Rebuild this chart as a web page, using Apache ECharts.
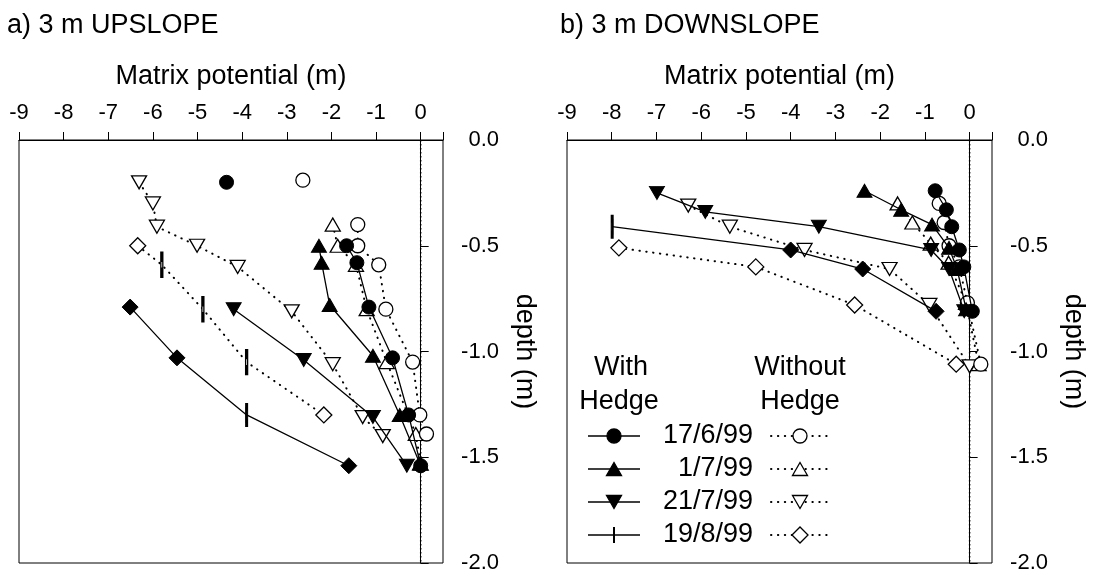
<!DOCTYPE html>
<html><head><meta charset="utf-8">
<script src="https://cdn.jsdelivr.net/npm/echarts/dist/echarts.min.js"></script>
<style>html,body{margin:0;padding:0;background:#fff}#c{width:1098px;height:575px}</style>
</head><body><div id="c"></div>
<script>
// ---- data: [matrix potential (m), depth (m)] ; ['-','-'] = break in line ----
const xTickValues = [-9,-8,-7,-6,-5,-4,-3,-2,-1,0];
const depthTicks = [0.0,-0.5,-1.0,-1.5,-2.0];
const dates = ['17/6/99','1/7/99','21/7/99','19/8/99'];

// a) 3 m UPSLOPE
const up_with_17    = [[-4.35,-0.20],['-','-'],[-1.66,-0.50],[-1.43,-0.58],[-1.16,-0.79],[-0.63,-1.03],[-0.27,-1.30],[0.00,-1.54]];
const up_without_17 = [[-2.64,-0.19],['-','-'],[-1.41,-0.40],[-1.41,-0.50],[-0.94,-0.59],[-0.78,-0.80],[-0.18,-1.05],[-0.02,-1.30],[0.13,-1.39]];
const up_with_1     = [[-2.28,-0.50],[-2.22,-0.58],[-2.04,-0.78],[-1.07,-1.02],[-0.47,-1.30],[-0.02,-1.53]];
const up_without_1  = [[-1.97,-0.40],[-1.86,-0.50],[-1.45,-0.59],[-1.21,-0.80],[-0.76,-1.05],[-0.11,-1.39],[0.00,-1.53]];
const up_with_21    = [[-4.19,-0.80],[-2.62,-1.04],[-1.07,-1.31],[-0.31,-1.54]];
const up_without_21 = [[-6.31,-0.20],[-6.00,-0.30],[-5.91,-0.41],[-5.01,-0.50],[-4.10,-0.60],[-2.89,-0.81],[-1.97,-1.06],[-1.30,-1.31],[-0.85,-1.40]];
const up_with_19    = [[-6.51,-0.79],[-5.46,-1.03],[-3.90,-1.30],[-1.61,-1.54]];
const up_without_19 = [[-6.34,-0.50],[-5.80,-0.59],[-4.88,-0.80],[-3.90,-1.05],[-2.17,-1.30]];
const up_with_19_diamondIdx    = [0,1,3];
const up_without_19_diamondIdx = [0,4];

// b) 3 m DOWNSLOPE
const dn_with_17    = [[-0.77,-0.24],[-0.52,-0.33],[-0.40,-0.41],[-0.23,-0.52],[-0.13,-0.60],[0.06,-0.81]];
const dn_without_17 = [[-0.68,-0.30],[-0.57,-0.39],[-0.46,-0.50],[-0.23,-0.60],[-0.05,-0.77],[0.25,-1.06]];
const dn_with_1     = [[-2.35,-0.24],[-1.53,-0.33],[-0.84,-0.40],[-0.46,-0.51],[-0.28,-0.61],[-0.08,-0.80]];
const dn_without_1  = [[-1.61,-0.30],[-1.28,-0.39],[-0.87,-0.49],[-0.47,-0.58],[-0.08,-0.77],[0.20,-1.06]];
const dn_with_21    = [[-6.99,-0.25],[-5.91,-0.34],[-3.37,-0.41],[-0.86,-0.52],[-0.46,-0.61],[-0.12,-0.81]];
const dn_without_21 = [[-6.29,-0.31],[-5.36,-0.41],[-3.69,-0.52],[-1.79,-0.61],[-0.90,-0.78],[0.00,-1.07]];
const dn_with_19    = [[-7.99,-0.41],[-4.00,-0.52],[-2.39,-0.61],[-0.75,-0.81]];
const dn_without_19 = [[-7.84,-0.51],[-4.78,-0.60],[-2.57,-0.78],[-0.30,-1.06]];
const dn_with_19_diamondIdx    = [1,2,3];
const dn_without_19_diamondIdx = [0,1,2,3];

// ---- styles ----
const FONT = 'Liberation Sans';
const BLACK = '#000';
const solid = {color: BLACK, width: 1.3, type: 'solid'};
const dotted = {color: BLACK, width: 2, type: [0.4, 6.5], cap: 'round'};
const filled = {color: BLACK, borderColor: BLACK, borderWidth: 1};
const open = {color: '#fff', borderColor: BLACK, borderWidth: 1.3};

const MK = {
  circle: {symbol: 'circle', symbolSize: 14, symbolRotate: 0},
  up: {symbol: 'triangle', symbolSize: [15, 13], symbolRotate: 0},
  down: {symbol: 'triangle', symbolSize: [15, 13], symbolRotate: 180},
  bar: {symbol: 'rect', symbolSize: [2, 16], symbolRotate: 0},
  diamond: {symbol: 'diamond', symbolSize: [16, 16], symbolRotate: 0}
};

function ser(gi, data, mk, isFilled, z, diamondIdx) {
  const item = isFilled ? filled : open;
  const d = data.map((p, i) => (diamondIdx && diamondIdx.includes(i))
    ? {value: p, symbol: 'diamond', symbolSize: [16, 16], itemStyle: item}
    : p);
  return Object.assign({
    type: 'line', xAxisIndex: gi, yAxisIndex: gi, data: d,
    showAllSymbol: true, connectNulls: false, animation: false, silent: true,
    lineStyle: isFilled ? solid : dotted,
    itemStyle: isFilled ? filled : open, z: z
  }, mk);
}

function zeroLine(gi) {
  return {type: 'line', xAxisIndex: gi, yAxisIndex: gi, data: [[0, 0], [0, -2]],
    symbol: 'none', silent: true, animation: false, z: 1,
    lineStyle: {color: BLACK, width: 1.5, type: [1.5, 2.5]}};
}

function xAx(gi) {
  return {type: 'value', gridIndex: gi, position: 'top', min: -9, max: 0.5, interval: 1,
    name: 'Matrix potential (m)', nameLocation: 'middle', nameGap: 50,
    nameTextStyle: {fontSize: 27, color: BLACK, fontFamily: FONT},
    axisLine: {show: true, lineStyle: {color: BLACK, width: 1}},
    axisTick: {show: true, length: 8, lineStyle: {color: BLACK}},
    axisLabel: {fontSize: 22, color: BLACK, fontFamily: FONT, margin: 16,
      formatter: v => xTickValues.includes(v) ? String(v) : ''},
    splitLine: {show: false}};
}
function yAx(gi) {
  return {type: 'value', gridIndex: gi, position: 'right', min: -2, max: 0, interval: 0.5,
    name: 'depth (m)', nameLocation: 'middle', nameRotate: -90, nameGap: 68,
    nameTextStyle: {fontSize: 27, color: BLACK, fontFamily: FONT},
    axisLine: {show: true, lineStyle: {color: BLACK, width: 1}},
    axisTick: {show: true, length: 8, lineStyle: {color: BLACK}},
    axisLabel: {fontSize: 22, color: BLACK, fontFamily: FONT, margin: 56, align: 'right',
      formatter: v => depthTicks.includes(v) ? v.toFixed(1) : ''},
    splitLine: {show: false}};
}

// ---- legend (drawn as graphics) ----
const legendRowsY = [436, 469, 502, 535];
const legendMk = ['circle', 'up', 'down', 'bar'];
function markerGraphic(kind, cx, cy, fill) {
  const st = {fill: fill ? BLACK : '#fff', stroke: BLACK, lineWidth: 1.3};
  if (kind === 'circle') return {type: 'circle', shape: {cx: cx, cy: cy, r: 7}, style: st, z: 10};
  if (kind === 'up') return {type: 'polygon', shape: {points: [[cx - 7.5, cy + 6.5], [cx + 7.5, cy + 6.5], [cx, cy - 6.5]]}, style: st, z: 10};
  if (kind === 'down') return {type: 'polygon', shape: {points: [[cx - 7.5, cy - 6.5], [cx + 7.5, cy - 6.5], [cx, cy + 6.5]]}, style: st, z: 10};
  if (kind === 'diamond') return {type: 'polygon', shape: {points: [[cx - 8, cy], [cx, cy - 8], [cx + 8, cy], [cx, cy + 8]]}, style: st, z: 10};
  return {type: 'line', shape: {x1: cx, y1: cy - 8, x2: cx, y2: cy + 8}, style: {stroke: BLACK, lineWidth: 2}, z: 10};
}
const graphics = [];
const tStyle = (txt, x, y, align) => ({type: 'text', x: x, y: y, z: 10,
  style: {text: txt, fontSize: 27, fontFamily: FONT, fill: BLACK, align: align, verticalAlign: 'middle'}});
graphics.push(tStyle('With', 621, 368, 'center'));
graphics.push(tStyle('Hedge', 619, 402, 'center'));
graphics.push(tStyle('Without', 800, 368, 'center'));
graphics.push(tStyle('Hedge', 800, 402, 'center'));
dates.forEach((d, i) => {
  const y = legendRowsY[i];
  graphics.push({type: 'line', shape: {x1: 588, y1: y, x2: 640, y2: y}, style: {stroke: BLACK, lineWidth: 1.3}, z: 9});
  graphics.push(markerGraphic(legendMk[i], 614, y, true));
  graphics.push(tStyle(d, 753, y, 'right'));
  graphics.push({type: 'line', shape: {x1: 771, y1: y, x2: 832, y2: y}, style: {stroke: BLACK, lineWidth: 2, lineDash: [0.4, 6.5], lineCap: 'round'}, z: 9});
  graphics.push(markerGraphic(i === 3 ? 'diamond' : legendMk[i], 800, y, false));
});

const option = {
  backgroundColor: '#fff',
  animation: false,
  textStyle: {fontFamily: FONT},
  title: [
    {text: 'a) 3 m UPSLOPE', left: 7, top: 12, padding: 0, textStyle: {fontSize: 27, fontWeight: 'normal', color: BLACK, fontFamily: FONT}},
    {text: 'b) 3 m DOWNSLOPE', left: 560, top: 12, padding: 0, textStyle: {fontSize: 27, fontWeight: 'normal', color: BLACK, fontFamily: FONT}}
  ],
  grid: [
    {left: 19, top: 140, width: 424, height: 423, show: true, borderColor: BLACK, borderWidth: 1, backgroundColor: 'transparent'},
    {left: 567, top: 140, width: 425, height: 423, show: true, borderColor: BLACK, borderWidth: 1, backgroundColor: 'transparent'}
  ],
  xAxis: [xAx(0), xAx(1)],
  yAxis: [yAx(0), yAx(1)],
  graphic: graphics,
  series: [
    zeroLine(0), zeroLine(1),
    // upslope, without hedge (dotted, open)
    ser(0, up_without_21, MK.down, false, 3),
    ser(0, up_without_19, MK.bar, false, 3, up_without_19_diamondIdx),
    ser(0, up_without_1, MK.up, false, 3),
    ser(0, up_without_17, MK.circle, false, 3),
    // upslope, with hedge (solid, filled)
    ser(0, up_with_19, MK.bar, true, 4, up_with_19_diamondIdx),
    ser(0, up_with_21, MK.down, true, 4),
    ser(0, up_with_1, MK.up, true, 4),
    ser(0, up_with_17, MK.circle, true, 5),
    // downslope, without hedge
    ser(1, dn_without_19, MK.bar, false, 3, dn_without_19_diamondIdx),
    ser(1, dn_without_21, MK.down, false, 3),
    ser(1, dn_without_1, MK.up, false, 3),
    ser(1, dn_without_17, MK.circle, false, 3),
    // downslope, with hedge
    ser(1, dn_with_19, MK.bar, true, 4, dn_with_19_diamondIdx),
    ser(1, dn_with_21, MK.down, true, 4),
    ser(1, dn_with_1, MK.up, true, 4),
    ser(1, dn_with_17, MK.circle, true, 5)
  ]
};
const chart = echarts.init(document.getElementById('c'), null, {renderer: 'canvas'});
chart.setOption(option);
</script>
</body></html>
